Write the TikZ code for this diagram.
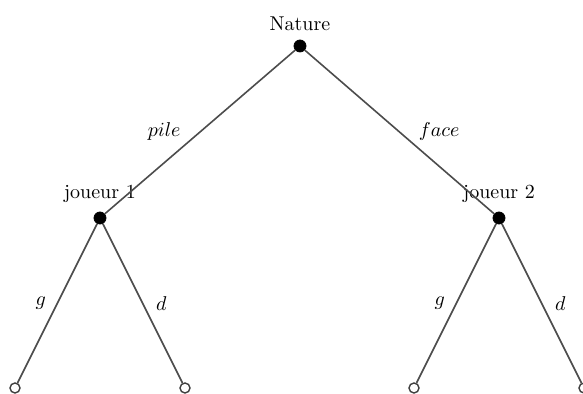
\documentclass[tikz,border=0pt]{standalone}
\usepackage{amsmath,amssymb}
\usetikzlibrary{positioning}

\begin{document}
\begin{tikzpicture}[
    on grid,
    decision/.style={circle, fill=black, draw=black, inner sep=0pt, minimum size=6pt},
    outcome/.style={circle, fill=white, draw=black!75, line width=0.7pt, inner sep=0pt, minimum size=5pt},
    branch/.style={draw=black!70, line width=0.8pt},
]
\useasboundingbox (-150pt,-174pt) rectangle (141.5pt,23pt);

% Root (chance move)
\node[decision, label={[label distance=1pt]above:Nature}] (nature) at (0,0) {};

% Players
\node[decision, below left=86pt and 100pt of nature, label={[label distance=1pt]above:joueur 1}] (j1) {};
\node[decision, below right=86pt and 99.5pt of nature, label={[label distance=1pt]above:joueur 2}] (j2) {};

% Leaves
\node[outcome, below left=85pt and 42.5pt of j1] (j1g) {};
\node[outcome, below right=85pt and 42.5pt of j1] (j1d) {};
\node[outcome, below left=85pt and 42.5pt of j2] (j2g) {};
\node[outcome, below right=85pt and 42.5pt of j2] (j2d) {};

% Branches
\draw[branch] (nature) -- node[left=6pt] {$pile$} (j1);
\draw[branch] (nature) -- node[right=6pt] {$face$} (j2);
\draw[branch] (j1) -- node[left=2pt] {$g$} (j1g);
\draw[branch] (j1) -- node[right=3pt] {$d$} (j1d);
\draw[branch] (j2) -- node[left=2pt] {$g$} (j2g);
\draw[branch] (j2) -- node[right=3pt] {$d$} (j2d);
\end{tikzpicture}
\end{document}
